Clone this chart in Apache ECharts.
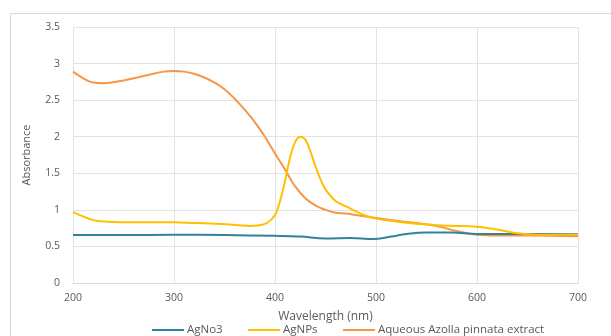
<!DOCTYPE html>
<html><head><meta charset="utf-8">
<script src="https://cdn.jsdelivr.net/npm/echarts@6/dist/echarts.min.js"></script>
<style>html,body{margin:0;padding:0;background:#fff}#c{width:611px;height:336px}</style>
</head><body><div id="c"></div>
<script>
const seriesNames = ['AgNo3', 'AgNPs', 'Aqueous Azolla pinnata extract'];
const agno3X = [200,250,300,350,400,425,450,475,497,515,530,550,575,600,650,700];
const agno3Y = [0.655,0.655,0.66,0.655,0.645,0.635,0.61,0.615,0.60,0.635,0.67,0.69,0.69,0.67,0.67,0.665];
const agnpsX = [200,210,220,230,250,280,300,320,340,355,365,375,385,392,400,405,410,415,420,425,430,435,440,445,450,460,470,480,490,500,520,540,560,580,600,620,640,660,700];
const agnpsY = [0.97,0.91,0.86,0.84,0.83,0.83,0.83,0.82,0.81,0.80,0.79,0.78,0.79,0.82,0.93,1.12,1.40,1.72,1.93,2.0,1.96,1.80,1.60,1.42,1.28,1.12,1.05,0.98,0.92,0.88,0.84,0.81,0.79,0.78,0.77,0.73,0.68,0.66,0.66];
const azollaX = [200,210,220,230,250,270,290,300,310,320,330,340,350,360,370,380,390,400,410,420,430,440,450,460,470,480,490,500,520,540,560,580,600,620,650,700];
const azollaY = [2.89,2.80,2.74,2.73,2.77,2.83,2.89,2.90,2.89,2.86,2.81,2.74,2.65,2.52,2.37,2.20,2.00,1.77,1.55,1.32,1.16,1.06,1.00,0.96,0.95,0.93,0.91,0.89,0.85,0.82,0.78,0.71,0.66,0.65,0.65,0.64];
const xTicks = [200,300,400,500,600,700];
const yTicks = [0,0.5,1,1.5,2,2.5,3,3.5];

const pair = (xs, ys) => xs.map((x, i) => [x, ys[i]]);
const colors = ['#31849B', '#FFC000', '#F79646'];
const font = 'Open Sans';
const chart = echarts.init(document.getElementById('c'), null, {renderer: 'canvas'});
const mkLegend = (name, left) => ({
  data: [name], left: left, top: 319, itemWidth: 32, itemHeight: 10,
  textStyle: {color: '#595959', fontFamily: font, fontSize: 11.5, padding: [0,0,0,-2]},
  icon: 'path://M0,4 L32,4 L32,6 L0,6 Z'
});
chart.setOption({
  animation: false,
  color: colors,
  graphic: [{type: 'rect', shape: {x: 10.5, y: 13.5, width: 640, height: 400}, style: {fill: 'none', stroke: '#d9d9d9', lineWidth: 1}, silent: true}],
  grid: {left: 73, right: 33, top: 27, bottom: 53},
  xAxis: {
    type: 'value', min: xTicks[0], max: xTicks[xTicks.length-1], interval: 100,
    name: 'Wavelength (nm)', nameLocation: 'middle', nameGap: 28,
    nameTextStyle: {color: '#595959', fontFamily: font, fontSize: 12},
    axisLine: {show: true, lineStyle: {color: '#d9d9d9'}}, axisTick: {show: false},
    axisLabel: {color: '#595959', fontFamily: font, fontSize: 10.5, margin: 10},
    splitLine: {show: true, lineStyle: {color: '#e3e3e3'}}
  },
  yAxis: {
    type: 'value', min: yTicks[0], max: yTicks[yTicks.length-1], interval: 0.5,
    name: 'Absorbance', nameLocation: 'middle', nameGap: 41, nameRotate: 90,
    nameTextStyle: {color: '#595959', fontFamily: font, fontSize: 11},
    axisLine: {show: false}, axisTick: {show: false},
    axisLabel: {color: '#595959', fontFamily: font, fontSize: 10.5, margin: 13},
    splitLine: {show: true, lineStyle: {color: '#e3e3e3'}}
  },
  legend: [mkLegend(seriesNames[0], 147), mkLegend(seriesNames[1], 243), mkLegend(seriesNames[2], 338)],
  series: [
    {name: seriesNames[0], type: 'line', data: pair(agno3X, agno3Y), smooth: 0.4, symbol: 'none', lineStyle: {width: 2, color: colors[0]}, z: 3},
    {name: seriesNames[1], type: 'line', data: pair(agnpsX, agnpsY), smooth: 0.4, symbol: 'none', lineStyle: {width: 2, color: colors[1]}, z: 4},
    {name: seriesNames[2], type: 'line', data: pair(azollaX, azollaY), smooth: 0.4, symbol: 'none', lineStyle: {width: 2, color: colors[2]}, z: 2}
  ]
});
</script></body></html>
